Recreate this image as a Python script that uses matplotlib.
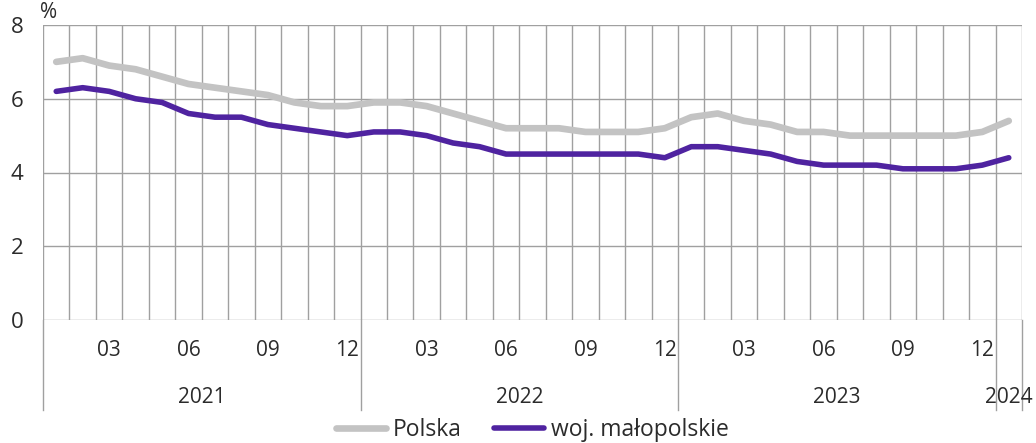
import numpy as np
import matplotlib
matplotlib.use("Agg")
import matplotlib.pyplot as plt
import matplotlib.transforms as mtransforms

plt.rcParams['font.family'] = ['Open Sans', 'DejaVu Sans']

# monthly data 2021-01 .. 2024-01
polska = [7.0, 7.1, 6.9, 6.8, 6.6, 6.4, 6.3, 6.2, 6.1, 5.9, 5.8, 5.8,
          5.9, 5.9, 5.8, 5.6, 5.4, 5.2, 5.2, 5.2, 5.1, 5.1, 5.1, 5.2,
          5.5, 5.6, 5.4, 5.3, 5.1, 5.1, 5.0, 5.0, 5.0, 5.0, 5.0, 5.1,
          5.4]
malopolskie = [6.2, 6.3, 6.2, 6.0, 5.9, 5.6, 5.5, 5.5, 5.3, 5.2, 5.1, 5.0,
               5.1, 5.1, 5.0, 4.8, 4.7, 4.5, 4.5, 4.5, 4.5, 4.5, 4.5, 4.4,
               4.7, 4.7, 4.6, 4.5, 4.3, 4.2, 4.2, 4.2, 4.1, 4.1, 4.1, 4.2,
               4.4]
years = ['2021', '2022', '2023', '2024']
months_per_year = [12, 12, 12, 1]
month_labels = ['03', '06', '09', '12']
yticks = [0, 2, 4, 6, 8]

n = len(polska)
x = np.arange(n) + 0.5
txt_c = '#2b2b2b'

fig = plt.figure(figsize=(10.36, 4.43), dpi=100)
ax = fig.add_axes([43/1036, 1-320/443, (1022-43)/1036, 295/443])

grid_c = '#a0a0a0'
for yv in yticks:
    ax.axhline(yv, color=grid_c, lw=1, zorder=1)
for i in range(n + 1):
    ax.axvline(i, color=grid_c, lw=1, zorder=1)

ax.plot(x, polska, color='#c3c3c3', lw=4.8, solid_capstyle='round',
        solid_joinstyle='round', zorder=3, label='Polska')
ax.plot(x, malopolskie, color='#4f23a0', lw=4.0, solid_capstyle='round',
        solid_joinstyle='round', zorder=4, label='woj. małopolskie')

ax.set_xlim(0, n)
ax.set_ylim(0, 8)
for s in ax.spines.values():
    s.set_visible(False)
ax.set_xticks([])
ax.set_yticks(yticks)
ax.set_yticklabels([str(v) for v in yticks], fontsize=16, color=txt_c)
ax.tick_params(axis='y', length=0, pad=14)
ax.text(-0.12, 8.05, '%', fontsize=15, color=txt_c, ha='left', va='bottom')

trans = mtransforms.blended_transform_factory(ax.transData, ax.transAxes)
start = 0
bounds = [0]
for yr, cnt in zip(years, months_per_year):
    for m in range(cnt):
        lab = '%02d' % (m + 1)
        if lab in month_labels:
            ax.text(start + m + 0.5, -0.103, lab, transform=trans, ha='center',
                    va='center', fontsize=15, color=txt_c)
    ax.text(start + cnt / 2, -0.262, yr, transform=trans, ha='center',
            va='center', fontsize=15, color=txt_c)
    start += cnt
    bounds.append(start)
for b in bounds:
    ax.plot([b, b], [0, -0.305], transform=trans, color=grid_c, lw=1,
            clip_on=False, zorder=1)

fig.legend(loc='center', bbox_to_anchor=(0.514, 0.03), ncol=2, frameon=False,
           fontsize=16.5, handlelength=2.2, handletextpad=0.3, columnspacing=1.4,
           labelcolor=txt_c, borderaxespad=0, borderpad=0)

fig.savefig('out.png', dpi=100)
